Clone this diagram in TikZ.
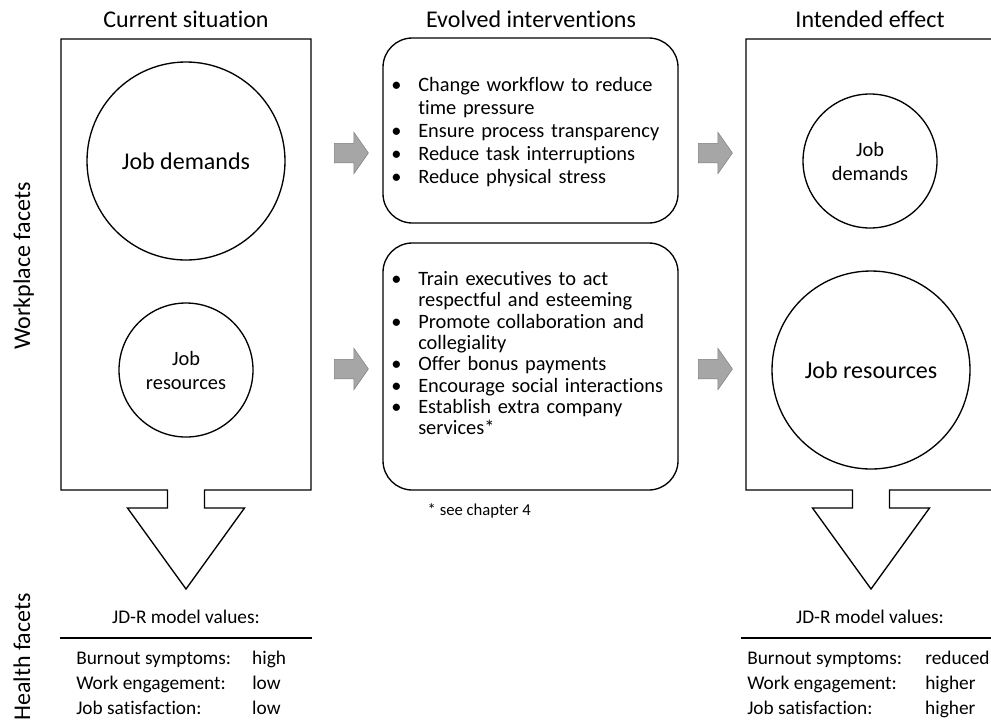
\documentclass[tikz,border=0pt]{standalone}
\usepackage{fontspec}
\setmainfont[Ligatures={NoCommon}]{Carlito}
\usepackage{enumitem}
\usetikzlibrary{shapes.arrows,positioning}

\setlist[itemize]{label=\textbullet,leftmargin=16.5pt,labelsep=12.5pt,
  itemsep=0pt,topsep=0pt,parsep=0pt,partopsep=0pt}

\begin{document}
\begin{tikzpicture}[x=0.75pt,y=-0.75pt,
    bigfont/.style={font=\fontsize{18}{21.6}\selectfont},
    title/.style={bigfont,anchor=base},
    side/.style={bigfont,rotate=90,anchor=base},
    bigcirc/.style={draw,circle,line width=1pt,minimum size=148.5pt,
                    inner sep=0pt,bigfont},
    smallcirc/.style={draw,circle,line width=1pt,minimum size=100.5pt,
                      inner sep=0pt,align=center,
                      font=\fontsize{15.3}{18}\selectfont},
    ibox/.style={draw,rounded corners=22pt,line width=1pt,
                 minimum width=221.25pt},
    listtext/.style={text width=208pt,inner sep=0pt,anchor=north west,
                     align=left},
    garrow/.style={single arrow,draw=black!50,fill=black!35,
                   minimum height=25.5pt,minimum width=30.75pt,
                   single arrow head extend=8.25pt,
                   single arrow tip angle=110,inner xsep=0pt,
                   inner ysep=7.1pt},
    valhead/.style={anchor=base,font=\fontsize{14.5}{18.75}\selectfont},
    values/.style={anchor=north west,align=left,inner sep=0pt,
                   font=\fontsize{14.5}{18.75}\selectfont},
    rule/.style={line width=1.7pt},
  ]
  \useasboundingbox (0,0) rectangle (991,722);
  \clip (0,0) rectangle (991,722);

  % column titles
  \node[title] (tcur) at (186,27) {Current situation};
  \node[title] (tevo) at (531,27) {Evolved interventions};
  \node[title] (tint) at (870,27) {Intended effect};

  % row labels
  \node[side] (work) at (30,266) {Workplace facets};
  \node[side] (health) at (30,657) {Health facets};

  % panels with arrow to the model values
  \foreach \cx in {186,871} {
    \draw[line width=1pt] (\cx-125,39) -- (\cx+125,39) -- (\cx+125,490)
      -- (\cx+18.5,490) -- (\cx+18.5,508) -- (\cx+58.5,508) -- (\cx,589)
      -- (\cx-58.5,508) -- (\cx-18.5,508) -- (\cx-18.5,490)
      -- (\cx-125,490) -- cycle;
  }

  % current situation
  \node[bigcirc] (cdem) at (186,161) {Job demands};
  \node[smallcirc] (cres) at (186,370) {Job\\resources};

  % intended effect
  \node[smallcirc] (idem) at (870,161) {Job\\demands};
  \node[bigcirc] (ires) at (871,370) {Job resources};

  % interventions
  \node[ibox,minimum height=138.75pt] (demint) at (530.5,130.5) {};
  \node[ibox,minimum height=185.25pt] (resint) at (530.5,366.5) {};

  \node[listtext,font=\fontsize{15.3}{17.25}\selectfont] (demlist) at (396,68) {%
    \begin{itemize}
      \item Change workflow to reduce time pressure
      \item Ensure process transparency
      \item Reduce task interruptions
      \item Reduce physical stress
    \end{itemize}};
  \node[listtext,font=\fontsize{15.3}{16}\selectfont] (reslist) at (396,264) {%
    \begin{itemize}
      \item Train executives to act respectful and esteeming
      \item Promote collaboration and collegiality
      \item Offer bonus payments
      \item Encourage social interactions
      \item Establish extra company services*
    \end{itemize}};
  \node[anchor=base west,font=\fontsize{12.5}{15}\selectfont] (note)
    at (423,515) {* see chapter 4};

  % grey arrows
  \node[garrow] (a1) at (348,153) {};
  \node[garrow] (a2) at (348,369) {};
  \node[garrow] (a3) at (712,153) {};
  \node[garrow] (a4) at (712,369) {};

  % model values
  \node[valhead] (cvh) at (186,623) {JD-R model values:};
  \draw[rule] (60,638) -- (312,638);
  \node[values] (cval) at (76,651) {%
    \makebox[132pt][l]{Burnout symptoms:}high\\
    \makebox[132pt][l]{Work engagement:}low\\
    \makebox[132pt][l]{Job satisfaction:}low};

  \node[valhead] (ivh) at (870,623) {JD-R model values:};
  \draw[rule] (741,638) -- (1000,638);
  \node[values] (ival) at (747,651) {%
    \makebox[133.5pt][l]{Burnout symptoms:}reduced\\
    \makebox[133.5pt][l]{Work engagement:}higher\\
    \makebox[133.5pt][l]{Job satisfaction:}higher};
\end{tikzpicture}
\end{document}
